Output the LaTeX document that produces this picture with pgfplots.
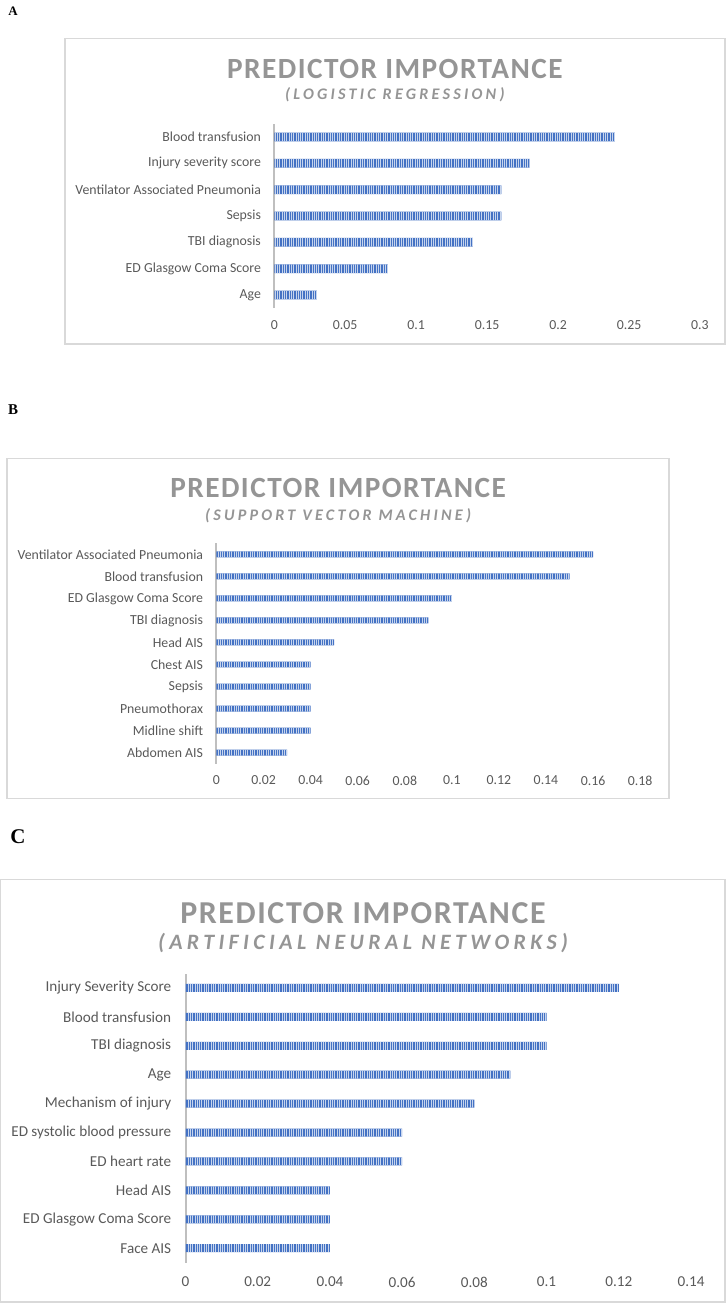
\documentclass[border=0pt]{standalone}
\usepackage{pgfplots}
\pgfplotsset{compat=1.18}
\usepackage{fontspec}
\setmainfont{Carlito}
\newfontfamily\titlefont[LetterSpace=5]{Carlito}
\newfontfamily\subfont[LetterSpace=20]{Carlito}
\newfontfamily\letterfont{Liberation Serif}
\usetikzlibrary{patterns.meta}
\definecolor{barblue}{HTML}{4472C4}
\definecolor{ticktext}{HTML}{595959}
\definecolor{titlegray}{HTML}{959595}
\definecolor{boxgray}{HTML}{D9D9D9}
\definecolor{axisgray}{HTML}{BFBFBF}
\pgfplotsset{
  predstyle/.style={
    scale only axis, xbar,
    axis lines*=left,
    x axis line style={draw=none},
    y axis line style={axisgray, line width=1pt},
    major tick length=0pt,
    tick label style={text=ticktext},
    yticklabel style={inner sep=0pt, xshift=-6.5pt},
    xticklabel style={inner sep=0pt, yshift=-6pt},
    ymin=-0.5,
  },
  barsty/.style={fill=barblue, draw=none,
    postaction={pattern={Lines[angle=90,distance=1.15pt,line width=0.3pt]}, pattern color=white!70!barblue}},
}
\begin{document}
\begin{tikzpicture}
\begin{scope}[x=0.5pt,y=-0.5pt]
  \path (0,0) rectangle (729,1304);
  % boxes
  \draw[boxgray, line width=0.6pt] (65,35) rectangle (727,341);
  \draw[boxgray, line width=0.6pt] (7,456) rectangle (671,797);
  \draw[boxgray, line width=0.6pt] (0.5,878) rectangle (727,1302);
  % letters
  \node[font=\letterfont\bfseries\fontsize{6.5}{8}\selectfont] at (13,7) {A};
  \node[font=\letterfont\bfseries\fontsize{7.5}{9}\selectfont] at (13,407) {B};
  \node[font=\letterfont\bfseries\fontsize{10.5}{12}\selectfont] at (18,835) {C};
  % titles
  \node[font=\titlefont\bfseries\fontsize{14.7}{17}\selectfont, text=titlegray] at (396,65) {PREDICTOR IMPORTANCE};
  \node[font=\subfont\bfseries\itshape\fontsize{8.1}{10}\selectfont, text=titlegray] at (396,91.5) {(LOGISTIC REGRESSION)};
  \node[font=\titlefont\bfseries\fontsize{14.7}{17}\selectfont, text=titlegray] at (339,485) {PREDICTOR IMPORTANCE};
  \node[font=\subfont\bfseries\itshape\fontsize{8.1}{10}\selectfont, text=titlegray] at (339,513) {(SUPPORT VECTOR MACHINE)};
  \node[font=\titlefont\bfseries\fontsize{16}{19}\selectfont, text=titlegray] at (364,912) {PREDICTOR IMPORTANCE};
  \node[font=\subfont\bfseries\itshape\fontsize{11}{13}\selectfont, text=titlegray] at (364,942) {(ARTIFICIAL NEURAL NETWORKS)};
  \coordinate (A0) at (275,305.2);
  \coordinate (B0) at (217,762);
  \coordinate (C0) at (186,1262.5);
\end{scope}

% Panel A
\begin{axis}[predstyle,
  at={(A0)}, anchor=south west,
  width=213.5pt, height=92.5pt,
  bar width=4.4pt,
  xmin=0, xmax=0.3, ymax=6.5,
  tick label style={font=\fontsize{6.93}{8}\selectfont},
  xtick={0,0.05,0.1,0.15,0.2,0.25,0.3},
  xticklabels={0,0.05,0.1,0.15,0.2,0.25,0.3},
  ytick={0,1,2,3,4,5,6},
  yticklabels={Age, ED Glasgow Coma Score, TBI diagnosis, Sepsis, Ventilator Associated Pneumonia, Injury severity score, Blood transfusion},
]
\addplot[barsty] coordinates {(0.03,0) (0.08,1) (0.14,2) (0.16,3) (0.16,4) (0.18,5) (0.24,6)};
\end{axis}

% Panel B
\begin{axis}[predstyle,
  at={(B0)}, anchor=south west,
  width=212.5pt, height=110.5pt,
  bar width=3pt,
  xmin=0, xmax=0.18, ymax=9.5,
  tick label style={font=\fontsize{6.93}{8}\selectfont},
  xtick={0,0.02,0.04,0.06,0.08,0.1,0.12,0.14,0.16,0.18},
  xticklabels={0,0.02,0.04,0.06,0.08,0.1,0.12,0.14,0.16,0.18},
  ytick={0,1,2,3,4,5,6,7,8,9},
  yticklabels={Abdomen AIS, Midline shift, Pneumothorax, Sepsis, Chest AIS, Head AIS, TBI diagnosis, ED Glasgow Coma Score, Blood transfusion, Ventilator Associated Pneumonia},
]
\addplot[barsty] coordinates {(0.03,0) (0.04,1) (0.04,2) (0.04,3) (0.04,4) (0.05,5) (0.09,6) (0.10,7) (0.15,8) (0.16,9)};
\end{axis}

% Panel C
\begin{axis}[predstyle,
  at={(C0)}, anchor=south west,
  width=253.5pt, height=145pt,
  bar width=4pt,
  xmin=0, xmax=0.14, ymax=9.5,
  tick label style={font=\fontsize{7.6}{9}\selectfont},
  xticklabel style={yshift=-1pt},
  yticklabel style={xshift=-0.5pt},
  xtick={0,0.02,0.04,0.06,0.08,0.1,0.12,0.14},
  xticklabels={0,0.02,0.04,0.06,0.08,0.1,0.12,0.14},
  ytick={0,1,2,3,4,5,6,7,8,9},
  yticklabels={Face AIS, ED Glasgow Coma Score, Head AIS, ED heart rate, ED systolic blood pressure, Mechanism of injury, Age, TBI diagnosis, Blood transfusion, Injury Severity Score},
]
\addplot[barsty] coordinates {(0.04,0) (0.04,1) (0.04,2) (0.06,3) (0.06,4) (0.08,5) (0.09,6) (0.10,7) (0.10,8) (0.12,9)};
\end{axis}
\end{tikzpicture}
\end{document}
